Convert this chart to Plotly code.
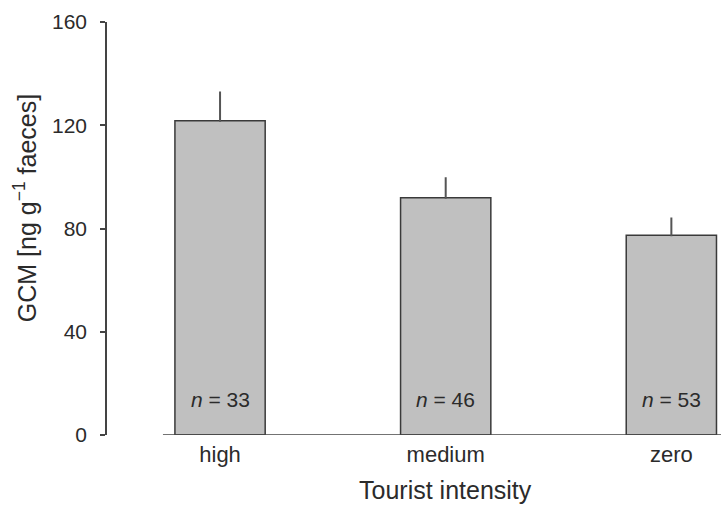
import plotly.graph_objects as go

categories = ["high", "medium", "zero"]
gcm_mean = [121.7, 91.9, 77.4]
gcm_se = [11.0, 7.6, 6.5]
n_labels = ["33", "46", "53"]
y_ticks = [0, 40, 80, 120, 160]

W, H = 721, 506
L, R, T, B = 107, 0, 22, 71
xpos = list(range(len(categories)))
font = "Liberation Sans, Arial, sans-serif"
txt = "#2b2b2b"

fig = go.Figure()
fig.add_trace(go.Bar(
    x=xpos, y=gcm_mean, width=0.4,
    marker=dict(color="#c0c0c0", line=dict(color="#3a3a3a", width=1.5)),
    error_y=dict(type="data", array=gcm_se, arrayminus=[0]*len(gcm_se),
                 symmetric=False, color="#555555", thickness=2, width=1),
    showlegend=False, hoverinfo="skip",
))

# baseline under bars
fig.add_shape(type="line", xref="x", yref="y", x0=-0.253, x1=2.3, y0=0, y1=0,
              line=dict(color="#444444", width=1.5))

for xi, n in zip(xpos, n_labels):
    fig.add_annotation(x=xi, y=13.6, xref="x", yref="y", showarrow=False,
                       text=f"<i>n</i> = {n}", font=dict(size=21, color=txt, family=font))

fig.add_annotation(x=1, y=-0.134, xref="x", yref="paper", showarrow=False,
                   text="Tourist intensity", font=dict(size=25, color=txt, family=font),
                   yanchor="middle", xanchor="center", borderpad=0)
fig.add_annotation(x=-0.133, y=0.55, xref="paper", yref="paper", showarrow=False,
                   text="GCM [ng g<sup>−1</sup> faeces]", textangle=-90,
                   xanchor="center", yanchor="middle",
                   font=dict(size=25, color=txt, family=font))

fig.update_layout(
    width=W, height=H, margin=dict(l=L, r=R, t=T, b=B, autoexpand=False),
    plot_bgcolor="white", paper_bgcolor="white",
    font=dict(family=font, color=txt, size=16),
    xaxis=dict(range=[-0.501, 2.22], tickvals=xpos, ticktext=categories,
               showgrid=False, zeroline=False, showline=False, ticks="",
               automargin=False,
               tickfont=dict(size=22, color=txt), ticklabelstandoff=4),
    yaxis=dict(range=[0, 160], tickvals=y_ticks, showgrid=False, zeroline=False,
               showline=True, linecolor="#444444", linewidth=1.5,
               automargin=False,
               ticks="outside", ticklen=5, tickcolor="#444444", tickwidth=1.5,
               tickfont=dict(size=21, color=txt), ticklabelstandoff=9),
)

fig.write_html("out.html", config={"displayModeBar": False},
               post_script="document.body.style.margin='0';document.body.style.padding='0';")
